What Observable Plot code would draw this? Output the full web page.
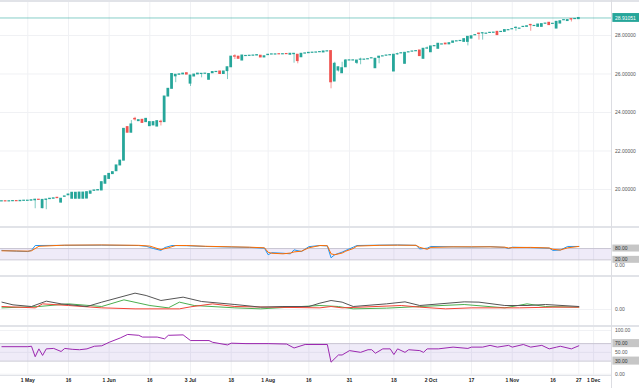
<!DOCTYPE html>
<html><head><meta charset="utf-8">
<script src="https://cdn.jsdelivr.net/npm/d3@7"></script>
<script src="https://cdn.jsdelivr.net/npm/@observablehq/plot@0.6"></script>
<style>
html,body{margin:0;padding:0;background:#fff;}
#chart{position:relative;width:639px;height:388px;overflow:hidden;background:#fff;}
#chart svg{position:absolute;left:0;}
.sep{position:absolute;left:0;width:639px;height:2px;background:#e1e3e8;}
.vsep{position:absolute;top:0;left:611px;width:1px;height:388px;background:#dcdde2;}
</style></head><body><div id="chart"></div>
<script>
// ---------- DATA ----------
const firstBar = -7; // bar index of the first candle (1 May = bar 0)
const opens = [19.38,19.39,19.38,19.39,19.40,19.39,19.41,19.41,19.42,19.44,19.47,19.03,19.46,19.50,19.52,19.57,19.32,19.62,19.70,19.52,19.52,19.52,19.52,19.53,19.78,19.93,19.95,19.95,20.30,20.55,20.80,20.95,21.25,21.50,23.24,22.95,23.67,23.55,23.62,23.50,23.29,23.33,23.27,23.52,23.50,24.83,25.23,25.88,25.96,25.98,26.04,25.50,25.87,25.98,26.00,26.01,25.70,26.04,26.10,26.13,26.00,26.15,26.35,26.92,26.90,26.70,26.93,26.94,26.95,26.96,26.95,26.86,26.98,27.01,27.01,27.03,27.02,27.04,27.00,27.03,27.00,26.87,27.06,27.08,27.10,27.11,27.13,27.12,27.17,27.19,25.61,26.18,26.04,26.35,26.70,26.70,26.58,26.74,26.74,26.76,26.81,26.30,26.84,26.91,26.95,26.97,26.13,27.02,27.07,26.53,27.12,27.16,27.18,27.22,26.79,27.32,27.13,27.44,27.31,27.53,27.58,27.54,27.62,27.69,27.71,27.67,27.67,27.84,28.01,28.10,28.11,28.09,28.13,28.14,28.19,28.18,28.19,28.27,28.32,28.39,28.35,28.44,28.45,28.55,28.49,28.45,28.45,28.61,28.66,28.60,28.36,28.62,28.79,28.75,28.85,28.85,28.85];
const closes = [19.39,19.38,19.39,19.40,19.39,19.41,19.42,19.42,19.44,19.47,19.46,19.46,19.48,19.52,19.54,19.55,19.52,19.64,19.74,19.83,19.83,19.84,19.84,19.86,19.90,19.95,19.97,20.38,20.69,20.81,20.90,21.25,21.50,23.15,22.95,23.38,23.64,23.60,23.46,23.67,23.50,23.50,23.55,23.50,24.83,25.23,26.00,25.96,25.98,26.02,25.97,25.92,25.97,26.02,26.01,26.02,26.00,26.10,26.11,26.00,26.13,26.35,26.90,26.90,26.79,26.96,26.94,26.95,26.96,26.98,26.86,26.92,27.00,27.02,27.02,27.02,27.03,27.03,27.05,27.05,26.67,27.05,27.07,27.10,27.11,27.12,27.14,27.17,27.18,25.57,26.53,26.35,26.30,26.70,26.71,26.71,26.70,26.75,26.75,26.77,26.82,26.79,26.90,26.92,26.96,26.98,27.00,27.03,27.08,27.10,27.13,27.17,27.19,26.93,27.31,27.33,27.43,27.45,27.57,27.54,27.54,27.60,27.69,27.70,27.72,27.81,27.93,27.96,28.02,28.08,28.12,28.10,28.14,28.15,28.02,28.19,28.28,28.28,28.33,28.40,28.36,28.45,28.48,28.53,28.50,28.57,28.59,28.62,28.54,28.61,28.71,28.74,28.80,28.80,28.83,28.86,28.91051];
// wick extremes that reach beyond the body: [bar, price]
const wickHighs = [[2,19.49],[4,19.47],[9,19.53],[28,23.58],[29,23.75],[36,23.60],[56,27.00],[72,27.06],[82,27.20],[83,26.61],[85,26.61],[86,26.75],[90,26.82],[100,27.08],[108,27.40],[122,28.12],[123,28.14],[132,28.45],[136,28.58],[147,28.87]];
const wickLows = [[2,19.00],[4,19.00],[5,18.95],[9,19.30],[29,23.55],[36,23.30],[40,25.55],[44,25.35],[47,25.80],[54,25.71],[56,26.75],[72,26.56],[73,26.53],[82,25.23],[84,26.10],[89,26.49],[90,26.48],[95,26.53],[100,26.98],[108,27.28],[119,27.46],[122,27.76],[123,27.76],[132,28.22],[136,28.22],[147,28.70]];
const lastPrice = 28.91051;
const priceTicks = [20, 22, 24, 26, 28];
const tickBars = [0, 11, 22, 33, 44, 55, 65, 76, 87, 99, 109, 120, 131, 142, 149, 153];
const tickLabels = ["1 May","16","1 Jun","16","3 Jul","18","1 Aug","16","31","18","2 Oct","17","1 Nov","16","27","1 Dec"];

// Stochastic RSI [bar, value]
const stochK = [[-7,70],[-3,66],[0,64],[1,70],[2,96],[10,97],[20,98],[30,96],[32,92],[34,80],[36,70],[37,85],[39,96],[43,95],[48,91],[55,88],[60,86],[64,82],[65,47],[66,58],[69,55],[71,52],[72,73],[74,64],[76,90],[79,96],[81,94],[82,31],[83,47],[85,61],[86,70],[88,87],[89,96],[95,98],[100,99],[105,97],[106,78],[108,82],[109,91],[115,89],[120,88],[125,90],[129,86],[130,80],[131,87],[136,85],[141,82],[142,70],[144,72],[146,91],[149,91]];
const stochD = [[-7,68],[-3,67],[0,66],[1,68],[3,92],[10,98],[20,99],[30,97],[33,93],[36,74],[38,84],[40,96],[43,96],[48,92],[55,89],[60,87],[64,84],[65,60],[66,55],[69,52],[71,56],[72,62],[74,66],[76,84],[79,96],[81,95],[82,52],[83,47],[85,56],[86,66],[88,80],[89,93],[95,97],[100,98],[105,97],[106,86],[108,76],[109,86],[115,89],[120,89],[125,89],[129,87],[130,83],[131,85],[136,86],[141,83],[142,76],[144,72],[146,84],[149,91]];
const stochLevels = [80, 20];

// Directional movement [bar, value]
const adx = [[-7,14.7],[-4,9.3],[1,6],[5,16.7],[9,11.3],[16,6],[20,14.7],[29,32.7],[32,28],[36,18],[42,24.7],[47,16],[56,10],[63,4.7],[69,6],[76,6],[79,12.7],[82,18],[85,14.7],[88,6],[97,11.3],[102,15.3],[106,8],[118,15.3],[122,14.7],[129,8],[135,8],[140,10],[149,6]];
const plusDI = [[-7,3.3],[3,6],[11,11.3],[20,6],[26,19.3],[33,8],[38,3.3],[41,14.7],[45,8],[56,3.3],[63,1.3],[74,6],[79,8],[84,6],[88,1.3],[97,2.7],[106,6],[118,10],[129,3.3],[135,11.3],[140,6],[149,4.7]];
const minusDI = [[-7,6],[2,3.3],[4,11.3],[11,8],[20,3.3],[29,1.3],[41,1.3],[44,5.3],[50,11.3],[56,6],[65,4.7],[79,3.3],[82,6],[85,3.3],[101,8],[106,4.7],[113,1.3],[120,3.3],[133,3.3],[142,4.7],[149,4.7]];

// RSI [bar, value]
const rsi = [[-7,63],[0,63],[1,64],[2,40],[3,58],[4,43],[5,58],[7,59],[9,52],[10,59],[12,57],[14,56],[16,58],[18,64],[20,65],[22,73],[25,83],[27,91],[30,89],[31,85],[35,85],[37,81],[38,89],[42,90],[44,77],[49,77],[50,73],[54,67],[55,71],[59,70],[65,70],[70,69],[72,60],[75,68],[81,68],[82,27.5],[84,44],[85,44],[87,54],[90,50],[92,56],[93,56],[94,48],[96,58],[98,58],[99,45],[100,58],[102,50],[103,56],[106,54],[107,50],[108,58],[111,58],[115,62],[119,59],[120,62],[123,62],[125,66],[127,62],[130,66],[131,62],[134,68],[136,62],[139,66],[141,58],[143,62],[144,64],[145,62],[147,58],[149,65]];
const rsiLevels = [70, 30];
const rsiPlainLabels = [100, 50, 0];

// ---------- LAYOUT ----------
const W = 639, FRAME_W = 612, PX_PER_BAR = 3.698, BAR0_X = 27.3;
const xmin = -BAR0_X / PX_PER_BAR, xmax = (FRAME_W - BAR0_X) / PX_PER_BAR;
const UP = "#26a69a", DOWN = "#ef5350", GRID = "#f0f1f4";
const FONT = "'Liberation Sans', Arial, sans-serif";
const chart = document.getElementById("chart");

const bars = opens.map((o, k) => {
  const c = closes[k];
  return {j: firstBar + k, o, c, h: Math.max(o, c), l: Math.min(o, c)};
});
const byJ = new Map(bars.map(b => [b.j, b]));
wickHighs.forEach(([j, v]) => { byJ.get(j).h = v; });
wickLows.forEach(([j, v]) => { byJ.get(j).l = v; });
const upBars = bars.filter(b => b.c >= b.o), downBars = bars.filter(b => b.c < b.o);

function pane(top, height, yDomain, marks, marginBottom = 0) {
  const svg = Plot.plot({
    width: W, height: height + marginBottom,
    marginLeft: 0, marginRight: W - FRAME_W, marginTop: 0, marginBottom,
    x: {domain: [xmin, xmax], axis: null},
    y: {domain: yDomain, axis: null},
    style: {fontFamily: FONT, fontSize: "5px", background: "transparent", overflow: "visible"},
    marks
  });
  svg.style.top = top + "px";
  chart.appendChild(svg);
}
const vgrid = () => Plot.ruleX(tickBars, {x: d => d, stroke: GRID, strokeWidth: 1});
function boxes(levels, half, fill, textFill, fmt) {
  return [
    Plot.rect(levels, {x1: () => xmax + 0.1, x2: () => xmax + 7.4, y1: d => d - half, y2: d => d + half, fill}),
    Plot.text(levels, {frameAnchor: "right", y: d => d, text: fmt, textAnchor: "start", dx: 2.5, fill: textFill})
  ];
}
const plainLabels = (levels, fmt, dy = 0) =>
  Plot.text(levels, {frameAnchor: "right", y: d => d, text: fmt, textAnchor: "start", dx: 2.5, dy, fill: "#555"});
const lineOf = (data, stroke) => Plot.line(data, {x: d => d[0], y: d => d[1], stroke, strokeWidth: 1});

// Main candlestick pane
pane(0, 227, [18.026, 29.818], [
  vgrid(),
  Plot.ruleY(priceTicks, {y: d => d, stroke: GRID}),
  Plot.ruleY([lastPrice], {y: d => d, stroke: UP, strokeOpacity: 0.55}),
  Plot.ruleX(upBars, {x: "j", y1: "l", y2: "h", stroke: UP, strokeOpacity: 0.6}),
  Plot.ruleX(downBars, {x: "j", y1: "l", y2: "h", stroke: DOWN, strokeOpacity: 0.6}),
  Plot.rect(upBars, {x1: d => d.j - 0.37, x2: d => d.j + 0.37, y1: "o", y2: "c", fill: UP, insetTop: -0.5, insetBottom: -0.5}),
  Plot.rect(downBars, {x1: d => d.j - 0.37, x2: d => d.j + 0.37, y1: "o", y2: "c", fill: DOWN, insetTop: -0.5, insetBottom: -0.5}),
  plainLabels(priceTicks, d => d.toFixed(5)),
  ...boxes([lastPrice], 0.23, UP, "#fff", d => d.toFixed(5))
]);

// Stochastic RSI pane
pane(227, 49, [-68.5, 191.7], [
  vgrid(),
  Plot.rect([stochLevels], {x1: () => xmin, x2: () => xmax, y1: d => d[1], y2: d => d[0], fill: "#7e57c2", fillOpacity: 0.12}),
  Plot.ruleY(stochLevels, {y: d => d, stroke: "#c9c6d3"}),
  lineOf(stochK, "#2196f3"),
  lineOf(stochD, "#ff6d00"),
  plainLabels([0], d => d.toFixed(2), 2.2),
  ...boxes(stochLevels, 18.5, "#c6c6c6", "#333", d => d.toFixed(2))
]);

// Directional movement pane
pane(276, 50, [-34, 66], [
  vgrid(),
  Plot.ruleY([0], {y: d => d, stroke: GRID}),
  lineOf(plusDI, "#4caf50"),
  lineOf(minusDI, "#f44336"),
  lineOf(adx, "#555555"),
  plainLabels([0], d => d.toFixed(2))
]);

// RSI pane + time axis
pane(326, 49, [-3.0, 109.2], [
  vgrid(),
  Plot.ruleY(rsiPlainLabels, {y: d => d, stroke: GRID}),
  Plot.rect([rsiLevels], {x1: () => xmin, x2: () => xmax, y1: d => d[1], y2: d => d[0], fill: "#7e57c2", fillOpacity: 0.12}),
  Plot.ruleY(rsiLevels, {y: d => d, stroke: "#c9c6d3"}),
  lineOf(rsi, "#9c27b0"),
  plainLabels(rsiPlainLabels, d => d.toFixed(2)),
  ...boxes(rsiLevels, 9.2, "#c6c6c6", "#333", d => d.toFixed(2)),
  Plot.text(tickBars, {x: d => d, frameAnchor: "bottom", dy: 6.5, text: (d, i) => tickLabels[i], fill: "#222", fontWeight: 600})
], 13);

// pane separators and right border
[0, 226, 275, 325].forEach(t => {
  const d = document.createElement("div"); d.className = "sep"; d.style.top = t + "px"; chart.appendChild(d);
});
const b = document.createElement("div"); b.className = "sep"; b.style.top = "375px"; b.style.height = "1px"; b.style.width = "612px"; chart.appendChild(b);
const v = document.createElement("div"); v.className = "vsep"; chart.appendChild(v);
</script></body></html>
